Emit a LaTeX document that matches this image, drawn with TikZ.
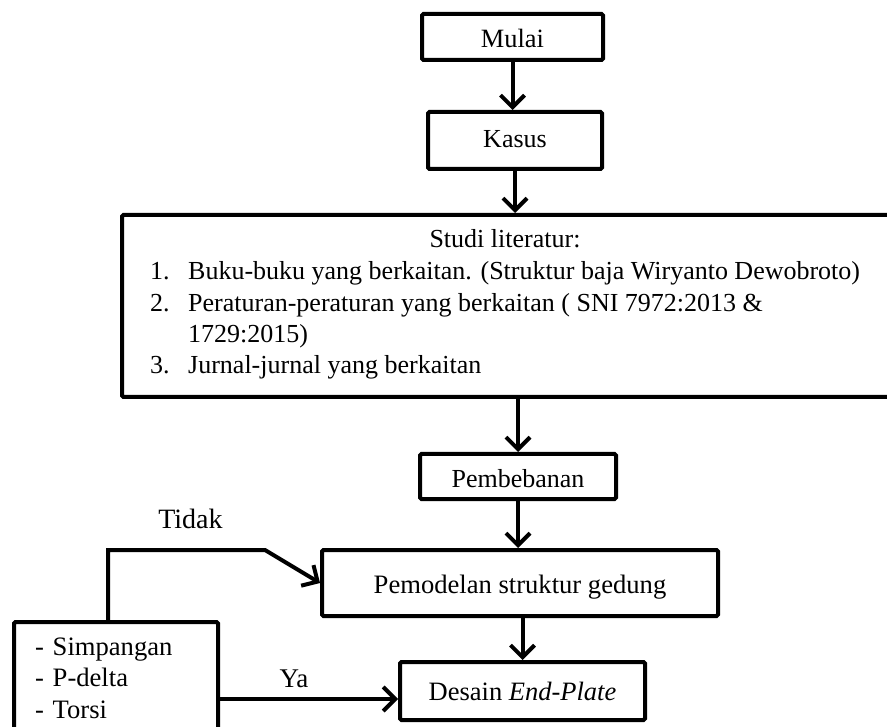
\documentclass[tikz,border=0pt]{standalone}
\usepackage{fontspec}
\setmainfont{Liberation Serif}
\usetikzlibrary{arrows.meta}

\tikzset{
  kotak/.style={draw, line width=4pt, rounded corners=1.5pt, inner sep=0pt},
  panah/.style={line width=4pt, -{Straight Barb[length=12pt,width=24pt]}},
}

\begin{document}
\begin{tikzpicture}[x=1pt,y=-1pt]
\clip (0,0) rectangle (887,727);
\node[kotak, minimum width=181pt, minimum height=46pt, text height=22pt, text depth=0pt, font=\fontsize{26.4}{31}\selectfont] (mulai) at (512.5,37) {Mulai};
\node[kotak, minimum width=174pt, minimum height=57pt, text height=15pt, text depth=0pt, font=\fontsize{26}{31}\selectfont] (kasus) at (515,140.5) {Kasus};
\node[kotak, minimum width=770pt, minimum height=182pt] (studi) at (507,306) {};
\node[anchor=base, inner sep=0pt, font=\fontsize{26}{31}\selectfont] (judul) at (505,248) {Studi literatur:};
\node[anchor=base west, inner sep=0pt, font=\fontsize{26}{31.3}\selectfont] (daftar) at (150,280) {\begin{tabular}[t]{@{}l@{}}
\makebox[38pt][l]{1.}Buku-buku yang berkaitan. (Struktur baja Wiryanto Dewobroto)\\
\makebox[38pt][l]{2.}Peraturan-peraturan yang berkaitan ( SNI 7972:2013 \&\\
\makebox[38pt][l]{}1729:2015)\\
\makebox[38pt][l]{3.}Jurnal-jurnal yang berkaitan
\end{tabular}};
\node[kotak, minimum width=196pt, minimum height=45pt, text height=22pt, text depth=0pt, font=\fontsize{26}{31}\selectfont] (pembebanan) at (518,476.5) {Pembebanan};
\node[kotak, minimum width=396pt, minimum height=66pt, text height=20pt, text depth=0pt, font=\fontsize{26.6}{31}\selectfont] (pemodelan) at (520,583) {Pemodelan struktur gedung};
\node[kotak, minimum width=245pt, minimum height=58pt, text height=18pt, text depth=0pt, font=\fontsize{26.5}{31}\selectfont] (desain) at (522.5,691) {Desain \textit{End-Plate}};
\node[kotak, minimum width=204pt, minimum height=112pt, text width=162pt, align=left, font=\fontsize{26.6}{31.5}\selectfont] (cek) at (116,678) {- Simpangan\\- P-delta\\- Torsi};
\node[anchor=base, inner sep=0pt, font=\fontsize{28}{32}\selectfont] (tidak) at (190.5,528) {Tidak};
\node[anchor=base, inner sep=0pt, font=\fontsize{27}{32}\selectfont] (ya) at (294,687) {Ya};

\draw[panah] (mulai.south) -- (mulai.south |- kasus.north);
\draw[panah] (kasus.south) -- (kasus.south |- studi.north);
\draw[panah] (pembebanan.north |- studi.south) -- (pembebanan.north);
\draw[panah] (pembebanan.south) -- (pembebanan.south |- pemodelan.north);
\draw[panah] (desain.north |- pemodelan.south) -- (desain.north);
\draw[panah] (108,0 |- cek.north) -- (108,550) -- (265,550) -- (pemodelan.west);
\draw[panah] (cek.east |- 0,699) -- (desain.west |- 0,699);
\end{tikzpicture}
\end{document}
